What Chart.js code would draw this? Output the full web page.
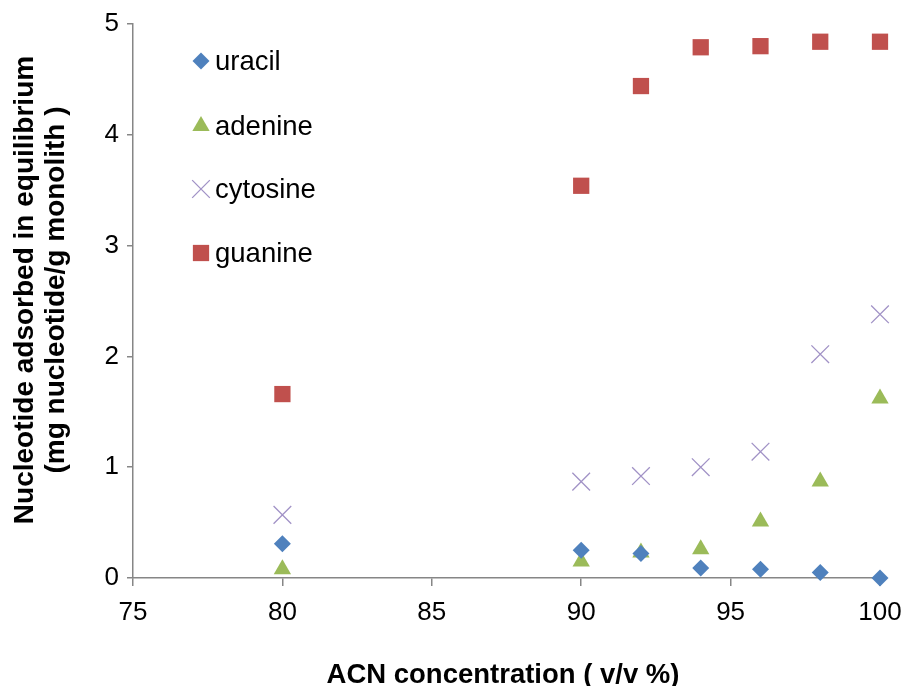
<!DOCTYPE html>
<html>
<head>
<meta charset="utf-8">
<script src="https://cdn.jsdelivr.net/npm/chart.js@4"></script>
<style>
  html, body { margin: 0; padding: 0; background: #fff; }
  #wrap { width: 903px; height: 686px; }
</style>
</head>
<body>
<div id="wrap"><canvas id="chart" width="903" height="686"></canvas></div>
<script>
// values
var acn = [80, 90, 92, 94, 96, 98, 100];
var uracil = [0.31, 0.25, 0.22, 0.09, 0.08, 0.05, 0.00];
var adenine = [0.08, 0.15, 0.23, 0.26, 0.51, 0.87, 1.62];
var cytosine = [0.57, 0.87, 0.92, 1.00, 1.14, 2.02, 2.38];
var guanine = [1.66, 3.54, 4.44, 4.79, 4.80, 4.84, 4.84];

var seriesNames = ['uracil', 'adenine', 'cytosine', 'guanine'];
var xTitle = 'ACN concentration ( v/v %)';
var yTitle = ['Nucleotide adsorbed in equilibrium', '(mg nucleotide/g monolith )'];

function toPoints(ys) {
  return acn.map(function (x, i) { return { x: x, y: ys[i] }; });
}

var axisColor = '#868686';
var fontFamily = '"Liberation Sans", Arial, sans-serif';

// legend inside the plot plus the two axis titles
var decorations = {
  id: 'decorations',
  afterDatasetsDraw: function (chart) {
    var ctx = chart.ctx;
    var rows = [61, 126, 189, 253];
    chart.data.datasets.forEach(function (ds, i) {
      ctx.save();
      ctx.fillStyle = ds.backgroundColor;
      ctx.strokeStyle = ds.borderColor;
      ctx.lineWidth = ds.borderWidth;
      Chart.helpers.drawPoint(ctx, {
        pointStyle: ds.pointStyle,
        radius: ds.pointRadius,
        borderWidth: ds.borderWidth
      }, 201, rows[i]);
      ctx.fillStyle = '#000';
      ctx.font = '27.5px ' + fontFamily;
      ctx.textBaseline = 'middle';
      ctx.fillText(ds.label, 215, rows[i] + 1);
      ctx.restore();
    });

    ctx.save();
    ctx.fillStyle = '#000';
    ctx.font = 'bold 27.5px ' + fontFamily;
    ctx.textAlign = 'center';
    ctx.textBaseline = 'alphabetic';
    ctx.fillText(xTitle, 503, 683);
    ctx.translate(0, 290);
    ctx.rotate(-Math.PI / 2);
    ctx.font = 'bold 28px ' + fontFamily;
    ctx.fillText(yTitle[0], 0, 33);
    ctx.fillText(yTitle[1], 0, 64);
    ctx.restore();
  }
};

new Chart(document.getElementById('chart'), {
  type: 'scatter',
  data: {
    datasets: [
      { label: seriesNames[0], data: toPoints(uracil), pointStyle: 'rectRot', pointRadius: 8.5,
        backgroundColor: '#4F81BD', borderColor: '#4F81BD', borderWidth: 0, clip: false },
      { label: seriesNames[1], data: toPoints(adenine), pointStyle: 'triangle', pointRadius: 10,
        backgroundColor: '#9BBB59', borderColor: '#9BBB59', borderWidth: 0, clip: false },
      { label: seriesNames[2], data: toPoints(cytosine), pointStyle: 'crossRot', pointRadius: 12.5,
        backgroundColor: '#A192C6', borderColor: '#A192C6', borderWidth: 1.3, clip: false },
      { label: seriesNames[3], data: toPoints(guanine), pointStyle: 'rect', pointRadius: 11.5,
        backgroundColor: '#C0504D', borderColor: '#C0504D', borderWidth: 0, clip: false }
    ]
  },
  options: {
    responsive: false,
    animation: false,
    layout: { padding: { top: 24, right: 23, left: 0, bottom: 0 } },
    plugins: {
      legend: { display: false },
      tooltip: { enabled: false }
    },
    scales: {
      x: {
        type: 'linear', min: 75, max: 100,
        afterFit: function (scale) { scale.height = 108; scale.paddingRight = 0; scale.paddingLeft = 0; },
        ticks: { stepSize: 5, color: '#000', padding: 11, font: { family: fontFamily, size: 26 } },
        grid: { drawOnChartArea: false, drawTicks: true, tickLength: 8, color: axisColor, lineWidth: 1.5 },
        border: { color: axisColor, width: 1.5 }
      },
      y: {
        type: 'linear', min: 0, max: 5,
        afterFit: function (scale) { scale.width = 133; scale.paddingTop = 0; scale.paddingBottom = 0; },
        ticks: { stepSize: 1, color: '#000', padding: 8, font: { family: fontFamily, size: 26 } },
        grid: { drawOnChartArea: false, drawTicks: true, tickLength: 6, color: axisColor, lineWidth: 1.5 },
        border: { color: axisColor, width: 1.5 }
      }
    }
  },
  plugins: [decorations]
});
</script>
</body>
</html>
